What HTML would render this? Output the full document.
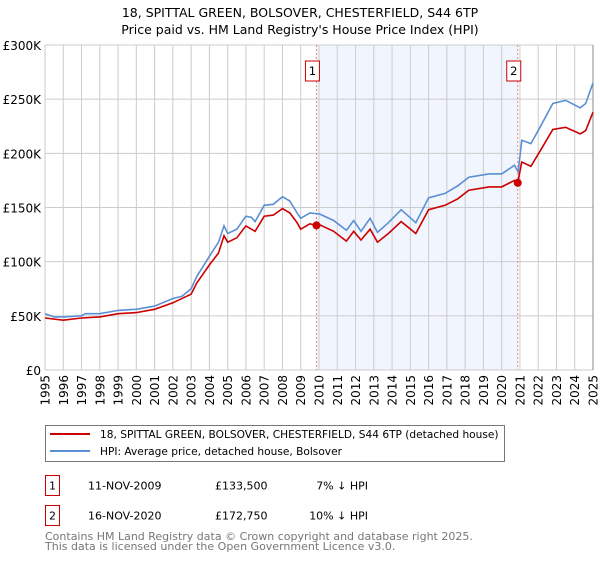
<!DOCTYPE html>
<html><head><meta charset="utf-8"><style>
body{margin:0;background:#fff;width:600px;height:560px;overflow:hidden;font-family:"DejaVu Sans","Liberation Sans",sans-serif;}
svg text{font-family:"DejaVu Sans","Liberation Sans",sans-serif;}
</style></head><body>
<svg id="chart" width="600" height="560">
<text x="300" y="17" text-anchor="middle" font-size="12.5" fill="#000">18, SPITTAL GREEN, BOLSOVER, CHESTERFIELD, S44 6TP</text>
<text x="300" y="34" text-anchor="middle" font-size="12.5" fill="#000">Price paid vs. HM Land Registry's House Price Index (HPI)</text>
<g id="plot"></g>
<g>
<rect x="45.5" y="425.5" width="459" height="36" fill="#fff" stroke="#777"/>
<line x1="50" y1="434" x2="90" y2="434" stroke="#cc0000" stroke-width="2"/>
<text x="100" y="438" font-size="10.6">18, SPITTAL GREEN, BOLSOVER, CHESTERFIELD, S44 6TP (detached house)</text>
<line x1="50" y1="451" x2="90" y2="451" stroke="#5b8fd4" stroke-width="2"/>
<text x="100" y="455" font-size="10.6">HPI: Average price, detached house, Bolsover</text>
</g>
<g font-size="11">
<rect x="45.5" y="475.5" width="14" height="20" fill="#fff" stroke="#cc0000"/>
<text x="52.5" y="489.5" text-anchor="middle">1</text>
<text x="88" y="489.5">11-NOV-2009</text>
<text x="215" y="489.5">£133,500</text>
<text x="368" y="489.5" text-anchor="end">7% ↓ HPI</text>
<rect x="45.5" y="505.5" width="14" height="20" fill="#fff" stroke="#cc0000"/>
<text x="52.5" y="519.5" text-anchor="middle">2</text>
<text x="88" y="519.5">16-NOV-2020</text>
<text x="215" y="519.5">£172,750</text>
<text x="368" y="519.5" text-anchor="end">10% ↓ HPI</text>
</g>
<text x="45" y="540" font-size="11" fill="#777">Contains HM Land Registry data © Crown copyright and database right 2025.</text>
<text x="45" y="550" font-size="11" fill="#777">This data is licensed under the Open Government Licence v3.0.</text>
</svg>
<script>
const hpiYears=[1995,1995.5,1996,1997,1997.2,1998,1999,2000,2001,2002,2002.5,2003,2003.3,2004,2004.5,2004.8,2005,2005.5,2006,2006.3,2006.5,2007,2007.5,2008,2008.4,2008.8,2009,2009.5,2010.04,2010.8,2011.5,2011.9,2012.3,2012.8,2013.2,2013.8,2014.5,2015.3,2016,2016.9,2017.6,2018.2,2019.3,2020,2020.7,2020.9,2021.1,2021.6,2022.1,2022.8,2023.5,2024.3,2024.6,2025];
const hpiValues=[52,49,49,50,52,52,55,56,59,66,68,75,86,105,118,133,126,130,142,141,137,152,153,160,156,145,140,145,144,138,129,138,128,140,127,136,148,136,159,163,170,178,181,181,189,183,212,209,224,246,249,242,246,265];
const redYears=[1995,1996,1997,1998,1999,2000,2001,2002,2003,2003.3,2004,2004.5,2004.8,2005,2005.5,2006,2006.5,2007,2007.5,2008,2008.4,2008.8,2009,2009.5,2009.86,2010.04,2010.8,2011.5,2011.9,2012.3,2012.8,2013.2,2013.8,2014.5,2015.3,2016,2016.9,2017.6,2018.2,2019.3,2020,2020.7,2020.88,2021.1,2021.6,2022.1,2022.8,2023.5,2024.3,2024.6,2025];
const redValues=[48,46,48,49,52,53,56,62,70,80,97,108,124,118,122,133,128,142,143,149,145,136,130,135,133.5,134,128,119,128,120,130,118,126,137,126,148,152,158,166,169,169,175,172.75,192,188,202,222,224,218,221,238];
const saleYears=[2009.86,2020.88];
const saleValues=[133500,172750];
const saleLabels=["1","2"];
const yTicks=[0,50,100,150,200,250,300];
const yTickLabels=["£0","£50K","£100K","£150K","£200K","£250K","£300K"];
const xTicks=[1995,1996,1997,1998,1999,2000,2001,2002,2003,2004,2005,2006,2007,2008,2009,2010,2011,2012,2013,2014,2015,2016,2017,2018,2019,2020,2021,2022,2023,2024,2025];

const L=45,R=593,T=45,B=370,X0=1995,X1=2025,Ymax=300;
const xs=v=>L+(v-X0)/(X1-X0)*(R-L);
const ys=v=>B-v/Ymax*(B-T);
const NS="http://www.w3.org/2000/svg";
const g=document.getElementById('plot');
function mk(t,a,p){const e=document.createElementNS(NS,t);for(const k in a)e.setAttribute(k,a[k]);(p||g).appendChild(e);return e;}
let sh=mk('rect',{x:xs(saleYears[0]),y:T,width:xs(saleYears[1])-xs(saleYears[0]),height:B-T,fill:'#eef2fc',opacity:0.8});


yTicks.forEach((v,i)=>{
 let l=mk('line',{x1:L,x2:R,y1:ys(v),y2:ys(v),stroke:'#cccccc','stroke-width':1});
 
 
 let t=mk('text',{x:L-4,y:ys(v)+5,'text-anchor':'end','font-size':12});
 t.textContent=yTickLabels[i];
 
 
});
xTicks.forEach(v=>{
 let l=mk('line',{x1:xs(v),x2:xs(v),y1:T,y2:B,stroke:'#cccccc','stroke-width':1});
 
 
 let t=mk('text',{x:0,y:0,'text-anchor':'end','font-size':12,transform:`translate(${xs(v)+4.5},375) rotate(-90)`});
 t.textContent=v;
 
 
});
let ax=mk('line',{x1:R,x2:R,y1:T,y2:B,stroke:'#888','stroke-width':1});


saleYears.forEach((yr,i)=>{
 let l=mk('line',{x1:xs(yr),x2:xs(yr),y1:T,y2:B,stroke:'#f08080','stroke-width':1,'stroke-dasharray':'2,2'});
 
 
 let b=mk('rect',{x:xs(yr)-11,y:61,width:14,height:20,fill:'#fff',stroke:'#cc0000'});
 
 
 let t=mk('text',{x:xs(yr)-4,y:75,'text-anchor':'middle','font-size':11.5});
 t.textContent=saleLabels[i];
 
 
});
function path(xa,va){return xa.map((x,i)=>(i?'L':'M')+xs(x).toFixed(1)+','+ys(va[i]).toFixed(1)).join('');}
let hp=mk('path',{d:path(hpiYears,hpiValues),fill:'none',stroke:'#5b8fd4','stroke-width':1.6});


let rp=mk('path',{d:path(redYears,redValues),fill:'none',stroke:'#cc0000','stroke-width':1.6});


saleYears.forEach((yr,i)=>{
 let c=mk('circle',{cx:xs(yr),cy:ys(saleValues[i]/1000),r:4,fill:'#cc0000'});
 
 
});
</script>
</body></html>
